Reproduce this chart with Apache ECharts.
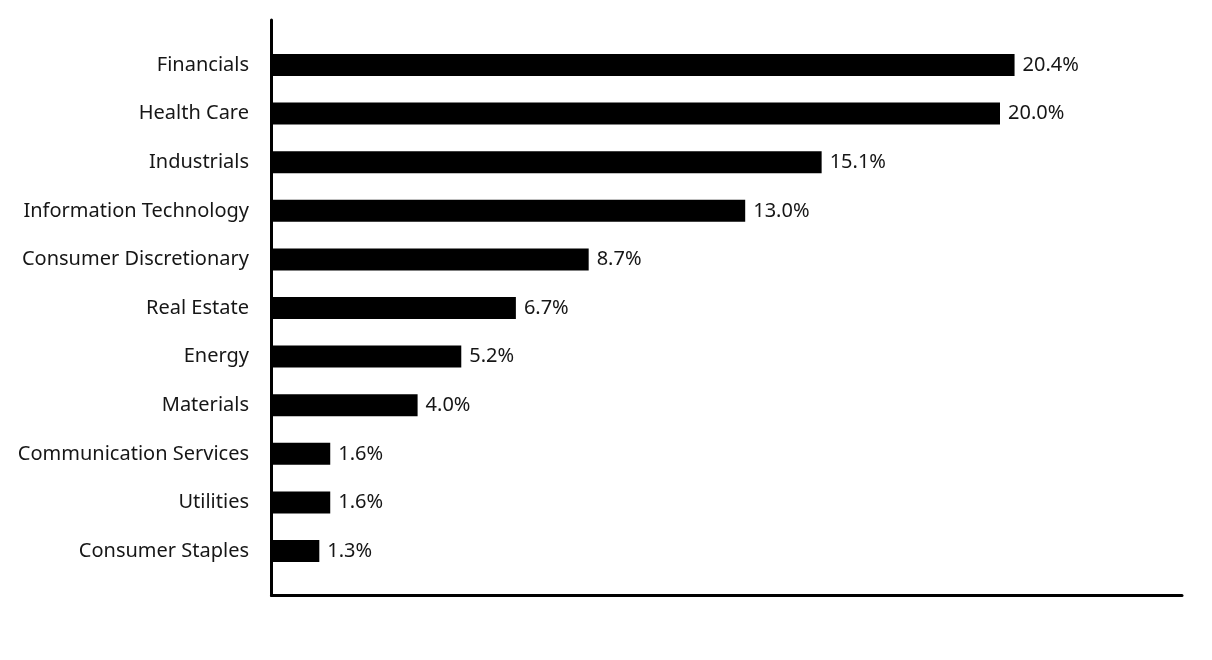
<!DOCTYPE html>
<html>
<head>
<meta charset="utf-8">
<script src="https://cdn.jsdelivr.net/npm/echarts@6/dist/echarts.min.js"></script>
<style>
html,body{margin:0;padding:0;background:#fff;}
#chart{width:1212px;height:660px;}
</style>
</head>
<body>
<div id="chart"></div>
<script>
const categories = [
  "Financials",
  "Health Care",
  "Industrials",
  "Information Technology",
  "Consumer Discretionary",
  "Real Estate",
  "Energy",
  "Materials",
  "Communication Services",
  "Utilities",
  "Consumer Staples"
];
const values = [20.4, 20.0, 15.1, 13.0, 8.7, 6.7, 5.2, 4.0, 1.6, 1.6, 1.3];
const xMax = 25;

const FONT = "Noto Sans";
const chart = echarts.init(document.getElementById('chart'), null, {renderer: 'canvas'});
chart.setOption({
  animation: false,
  backgroundColor: '#ffffff',
  grid: [
    {left: 272, right: 30, top: 40.7, bottom: 84.7, containLabel: false},
    {left: 271.5, right: 30, top: 20, bottom: 64.5, containLabel: false}
  ],
  xAxis: [
    {gridIndex: 0, type: 'value', min: 0, max: xMax, show: false},
    {gridIndex: 1, type: 'value', min: 0, max: xMax,
      axisLine: {show: true, lineStyle: {color: '#000', width: 3}},
      axisTick: {show: false}, axisLabel: {show: false}, splitLine: {show: false}}
  ],
  yAxis: [
    {gridIndex: 0, type: 'category', data: categories, inverse: true,
      axisLine: {show: false}, axisTick: {show: false}, splitLine: {show: false},
      axisLabel: {color: '#161616', fontFamily: FONT, fontSize: 20, margin: 23, padding: [9, 0, 0, 0]}},
    {gridIndex: 1, type: 'value', min: 0, max: 1,
      axisLine: {show: true, onZero: false, lineStyle: {color: '#000', width: 3}},
      axisTick: {show: false}, axisLabel: {show: false}, splitLine: {show: false}}
  ],
  series: [{
    type: 'bar',
    xAxisIndex: 0,
    yAxisIndex: 0,
    data: values,
    barWidth: 22,
    itemStyle: {color: '#000'},
    label: {
      show: true,
      position: 'right',
      distance: 8,
      color: '#161616',
      fontFamily: FONT,
      fontSize: 20,
      padding: [9, 0, 0, 0],
      formatter: p => p.value.toFixed(1) + '%'
    }
  }]
});
</script>
</body>
</html>
